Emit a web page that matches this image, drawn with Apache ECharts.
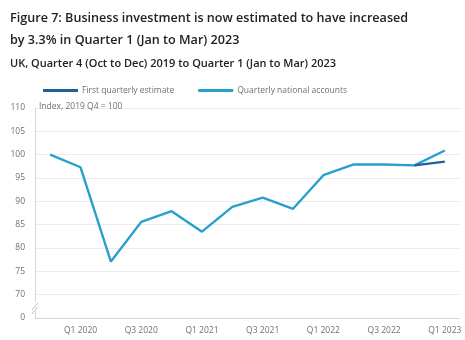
<!DOCTYPE html>
<html><head><meta charset="utf-8">
<style>html,body{margin:0;padding:0;background:#fff}#c{width:465px;height:340px}</style>
<script src="https://cdn.jsdelivr.net/npm/echarts@6/dist/echarts.min.js"></script>
</head><body><div id="c"></div>
<script>
const categories = ['Q4 2019','Q1 2020','Q2 2020','Q3 2020','Q4 2020','Q1 2021','Q2 2021','Q3 2021','Q4 2021','Q1 2022','Q2 2022','Q3 2022','Q4 2022','Q1 2023'];
const firstEstimate = [null,null,null,null,null,null,null,null,null,null,null,null,97.7,98.5];
const nationalAccounts = [100,97.3,77.1,85.6,87.9,83.5,88.8,90.8,88.4,95.6,97.9,97.9,97.7,100.9];
const shownXLabels = ['Q1 2020','Q3 2020','Q1 2021','Q3 2021','Q1 2022','Q3 2022','Q1 2023'];
const yTicks = [65,70,75,80,85,90,95,100,105,110];
const yTickLabels = ['0','70','75','80','85','90','95','100','105','110'];

const chart = echarts.init(document.getElementById('c'));
const FONT = '"Open Sans", sans-serif';
chart.setOption({
  animation: false,
  textStyle: {fontFamily: FONT},
  title: [
    {text: 'Figure 7: Business investment is now estimated to have increased\nby 3.3% in Quarter 1 (Jan to Mar) 2023',
     left: 5, top: 2,
     textStyle: {fontFamily: FONT, fontSize: 12.6, fontWeight: 600, color: '#222', lineHeight: 22}},
    {text: 'UK, Quarter 4 (Oct to Dec) 2019 to Quarter 1 (Jan to Mar) 2023',
     left: 5, top: 53,
     textStyle: {fontFamily: FONT, fontSize: 11, fontWeight: 600, color: '#222'}},
    {text: 'Index, 2019 Q4 = 100', left: 34, top: 97,
     textStyle: {fontFamily: FONT, fontSize: 8.5, fontWeight: 'normal', color: '#707070'}}
  ],
  legend: {
    left: 38, top: 81, itemWidth: 35, itemHeight: 3, itemGap: 24, icon: 'rect',
    textStyle: {fontFamily: FONT, fontSize: 8.5, color: '#707070', padding: [0,0,0,-1]},
    data: ['First quarterly estimate','Quarterly national accounts']
  },
  grid: {left: 35, right: 5, top: 108, bottom: 22, containLabel: false},
  xAxis: {
    type: 'category', data: categories, boundaryGap: true,
    axisLine: {lineStyle: {color: '#d6d6d6'}},
    axisTick: {alignWithLabel: true, length: 5, lineStyle: {color: '#d6d6d6'},
      interval: (i, v) => shownXLabels.includes(v)},
    axisLabel: {interval: (i, v) => shownXLabels.includes(v), color: '#707070', fontSize: 8.5, fontFamily: FONT, margin: 8},
    splitLine: {show: false}
  },
  yAxis: {
    type: 'value', min: 65, max: 110, interval: 5,
    axisLine: {show: true, lineStyle: {color: '#d6d6d6'}},
    axisTick: {show: false},
    axisLabel: {color: '#707070', fontSize: 8.5, fontFamily: FONT, margin: 10,
      formatter: v => yTickLabels[yTicks.indexOf(v)] ?? ''},
    splitLine: {lineStyle: {color: '#ececec'}}
  },
  series: [
    {name: 'First quarterly estimate', type: 'line', data: firstEstimate, showSymbol: false, symbol: 'none',
     lineStyle: {color: '#206095', width: 2.2}, itemStyle: {color: '#206095'}, z: 3},
    {name: 'Quarterly national accounts', type: 'line', data: nationalAccounts, showSymbol: false, symbol: 'none',
     lineStyle: {color: '#27a0cc', width: 2.4}, itemStyle: {color: '#27a0cc'}, z: 2}
  ]
});

// axis break marker on the y axis, placed via the axis scale
const pTop = chart.convertToPixel({yAxisIndex: 0}, 68.5);
const pBot = chart.convertToPixel({yAxisIndex: 0}, 66.5);
const ax = chart.convertToPixel({xAxisIndex: 0}, 0) - (chart.convertToPixel({xAxisIndex: 0}, 1) - chart.convertToPixel({xAxisIndex: 0}, 0)) / 2;
chart.setOption({
  graphic: [
    {type: 'rect', shape: {x: ax - 4, y: pTop, width: 8, height: pBot - pTop}, style: {fill: '#fff'}, z: 100},
    {type: 'line', shape: {x1: ax - 3, y1: pBot - 1, x2: ax + 3, y2: pTop + 1}, style: {stroke: '#bdbdbd', lineWidth: 1}, z: 101},
    {type: 'line', shape: {x1: ax - 3, y1: pBot + 3, x2: ax + 3, y2: pTop + 5}, style: {stroke: '#bdbdbd', lineWidth: 1}, z: 101}
  ]
});
</script></body></html>
